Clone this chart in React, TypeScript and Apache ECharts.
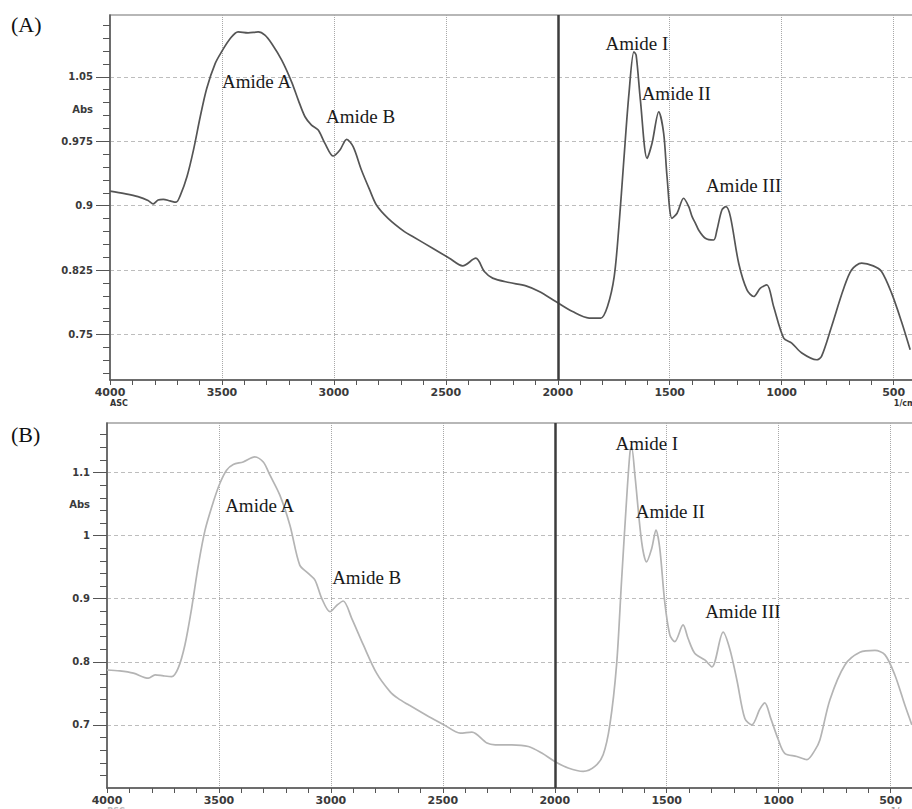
import React, { useEffect, useRef } from "react";
import * as echarts from "echarts";

// ---------- Data: spectrum (A) ----------
const aWave = [4000, 3935, 3875, 3830, 3807, 3785, 3762, 3732, 3705, 3686, 3656, 3627, 3597, 3568, 3530, 3502, 3463, 3428, 3383, 3338, 3308, 3278, 3233, 3189, 3159, 3129, 3100, 3070, 3040, 3003, 2973, 2943, 2914, 2877, 2840, 2810, 2758, 2685, 2648, 2559, 2484, 2425, 2366, 2328, 2291, 2217, 2142, 2083, 2009, 1934, 1860, 1808, 1778, 1748, 1727, 1705, 1682, 1660, 1650, 1631, 1601, 1579, 1549, 1527, 1512, 1490, 1467, 1438, 1415, 1400, 1385, 1371, 1341, 1304, 1289, 1267, 1249, 1229, 1192, 1155, 1125, 1095, 1066, 1036, 991, 955, 910, 844, 822, 777, 725, 688, 643, 591, 554, 509, 465, 426];
const aAbs = [0.917, 0.914, 0.9105, 0.906, 0.902, 0.9066, 0.9074, 0.9055, 0.904, 0.912, 0.934, 0.965, 1.0035, 1.0365, 1.0656, 1.079, 1.0946, 1.1023, 1.1012, 1.1023, 1.0985, 1.0888, 1.0694, 1.0442, 1.0229, 1.0035, 0.9938, 0.988, 0.9726, 0.9578, 0.9648, 0.9772, 0.9686, 0.9415, 0.9183, 0.9008, 0.8853, 0.8698, 0.864, 0.8505, 0.8388, 0.8299, 0.8388, 0.8233, 0.8156, 0.8105, 0.8066, 0.8, 0.7884, 0.7767, 0.7691, 0.7691, 0.7826, 0.8174, 0.8756, 0.9531, 1.0307, 1.0791, 1.0752, 1.0229, 0.9551, 0.9726, 1.0093, 0.9842, 0.9337, 0.8853, 0.8912, 0.9086, 0.8988, 0.8872, 0.8795, 0.8717, 0.862, 0.86, 0.8717, 0.895, 0.8988, 0.8872, 0.833, 0.802, 0.7942, 0.804, 0.8078, 0.7826, 0.7458, 0.74, 0.7284, 0.7206, 0.7244, 0.7593, 0.802, 0.8252, 0.833, 0.8299, 0.8233, 0.7981, 0.7651, 0.7322];

// ---------- Data: spectrum (B) ----------
const bWave = [4000, 3943, 3882, 3815, 3785, 3748, 3711, 3682, 3652, 3622, 3592, 3562, 3525, 3496, 3466, 3436, 3392, 3340, 3302, 3272, 3228, 3183, 3139, 3101, 3071, 3041, 3004, 2972, 2945, 2907, 2855, 2796, 2736, 2700, 2653, 2564, 2494, 2422, 2370, 2303, 2266, 2192, 2118, 2058, 2000, 1940, 1873, 1821, 1784, 1754, 1724, 1702, 1679, 1664, 1657, 1642, 1612, 1590, 1567, 1548, 1531, 1509, 1486, 1464, 1427, 1405, 1375, 1330, 1298, 1248, 1218, 1186, 1151, 1120, 1084, 1062, 1035, 1003, 973, 919, 874, 838, 816, 771, 704, 637, 570, 525, 481, 436, 405];
const bAbs = [0.787, 0.7856, 0.782, 0.774, 0.7793, 0.7777, 0.7766, 0.79, 0.8267, 0.8848, 0.9533, 1.0087, 1.0535, 1.0826, 1.1036, 1.1127, 1.1168, 1.1247, 1.1168, 1.0957, 1.0641, 1.0166, 0.9533, 0.9402, 0.9296, 0.9006, 0.8794, 0.89, 0.8964, 0.869, 0.8267, 0.782, 0.7528, 0.742, 0.7318, 0.7133, 0.7, 0.687, 0.6886, 0.6712, 0.6685, 0.6685, 0.6658, 0.6554, 0.6421, 0.6317, 0.6263, 0.6342, 0.6527, 0.7, 0.7951, 0.9269, 1.0589, 1.1326, 1.1405, 1.0957, 0.9902, 0.9585, 0.9797, 1.0087, 0.9797, 0.8953, 0.8426, 0.832, 0.8584, 0.8373, 0.8136, 0.803, 0.792, 0.847, 0.82, 0.77, 0.71, 0.7, 0.725, 0.735, 0.71, 0.678, 0.655, 0.65, 0.645, 0.66, 0.676, 0.74, 0.795, 0.815, 0.818, 0.811, 0.779, 0.731, 0.7];

// ---------- Annotations ----------
const bandNames = ["Amide A", "Amide B", "Amide I", "Amide II", "Amide III"];
const aBandWave = [3345, 2881, 1647, 1471, 1170];
const aBandAbs = [1.045, 1.0035, 1.0888, 1.0307, 0.924];
const bBandWave = [3318, 2840, 1589, 1484, 1160];
const bBandAbs = [1.047, 0.934, 1.146, 1.039, 0.879];

// ---------- Axis ticks ----------
const xMajor = [500, 1000, 1500, 2000, 2500, 3000, 3500, 4000];
const xGrid = [500, 1000, 1500, 2500, 3000, 3500];
const xSplit = [2000];
const aRange = [0.697, 1.122];
const aMajor = [0.75, 0.825, 0.9, 0.975, 1.05];
const aAbsLabelPos = 1.0125;
const aMinor = [0.705, 0.72, 0.735, 0.765, 0.78, 0.795, 0.81, 0.84, 0.855, 0.87, 0.885, 0.915, 0.93, 0.945, 0.96, 0.99, 1.005, 1.02, 1.035, 1.065, 1.08, 1.095, 1.11];
const bRange = [0.6, 1.1785];
const bMajor = [0.7, 0.8, 0.9, 1, 1.1];
const bAbsLabelPos = 1.05;
const bMinor = [0.62, 0.64, 0.66, 0.68, 0.72, 0.74, 0.76, 0.78, 0.82, 0.84, 0.86, 0.88, 0.92, 0.94, 0.96, 0.98, 1.02, 1.04, 1.06, 1.08, 1.12, 1.14, 1.16];

const zip = (xs: number[], ys: number[]) => xs.map((x, i) => [x, ys[i]]);

const AXIS_FONT = "DejaVu Sans";
const SERIF = "Liberation Serif";

function buildPanel(gridIndex: number, range: number[], major: number[], minor: number[], absPos: number, sub: string, subColor: string, unitColor: string) {
  const xAxes = [
    {
      type: "value", gridIndex, min: 400, max: 4000, inverse: true, interval: 100,
      axisLine: { show: true, lineStyle: { color: "#555", width: 1.5 } },
      axisTick: { show: true, length: 5, lineStyle: { color: "#555", width: 1 } },
      axisLabel: {
        show: true, customValues: xMajor, margin: 6,
        formatter: (v: number) => {
          if (v === 4000) return `{n|4000}\n{s|${sub}}`;
          if (v === 500) return `{n|500}\n{u|1/cm}`;
          return `{n|${v}}`;
        },
        rich: {
          n: { fontFamily: AXIS_FONT, fontWeight: "bold", fontSize: 11, color: "#3a3a3a", lineHeight: 12 },
          s: { fontFamily: AXIS_FONT, fontWeight: "bold", fontSize: 8, color: subColor, lineHeight: 10, padding: [0, 0, 0, 18] },
          u: { fontFamily: AXIS_FONT, fontWeight: "bold", fontSize: 8, color: unitColor, lineHeight: 10, padding: [0, 0, 0, 22] },
        },
      },
      splitLine: { show: false },
    },
    {
      type: "value", gridIndex, min: 400, max: 4000, inverse: true, position: "bottom",
      axisLine: { show: false },
      axisTick: { show: false, customValues: xGrid },
      axisLabel: { show: false },
      splitLine: { show: true, lineStyle: { color: "#a8a8a8", width: 1, type: [1, 1] } },
    },
  ];
  const yAxes = [
    {
      type: "value", gridIndex, min: range[0], max: range[1], position: "left",
      axisLine: { show: true, lineStyle: { color: "#555", width: 1.5 } },
      axisTick: { show: true, length: 7, customValues: minor, lineStyle: { color: "#555", width: 1 } },
      axisLabel: { show: false },
      splitLine: { show: false },
    },
    {
      type: "value", gridIndex, min: range[0], max: range[1], position: "left",
      axisLine: { show: false },
      axisTick: { show: true, length: 14, customValues: major, lineStyle: { color: "#555", width: 1 } },
      axisLabel: {
        show: true, customValues: [...major, absPos], margin: 17,
        fontFamily: AXIS_FONT, fontWeight: "bold", fontSize: 10, color: "#3a3a3a",
        formatter: (v: number) => (Math.abs(v - absPos) < 1e-6 ? "Abs" : String(v)),
      },
      splitLine: { show: true, lineStyle: { color: "#bdbdbd", width: 1, type: [4, 3] } },
    },
  ];
  return { xAxes, yAxes };
}

export default function App() {
  const ref = useRef<HTMLDivElement>(null);
  useEffect(() => {
    if (!ref.current) return;
    const chart = echarts.init(ref.current, null, { renderer: "svg" });
    const pA = buildPanel(0, aRange, aMajor, aMinor, aAbsLabelPos, "ASC", "#333", "#333");
    const pB = buildPanel(1, bRange, bMajor, bMinor, bAbsLabelPos, "BSC", "#bbb", "#999");

    const bandLabel = {
      show: true, position: "inside", formatter: "{b}",
      fontFamily: SERIF, fontSize: 19, color: "#1a1a1a",
    };
    const marks = (ws: number[], vs: number[]) => ({
      symbol: "circle", symbolSize: 1, silent: true,
      itemStyle: { color: "rgba(0,0,0,0)" },
      label: bandLabel,
      data: bandNames.map((n, i) => ({ name: n, coord: [ws[i], vs[i]] })),
    });
    const split = {
      silent: true, symbol: ["none", "none"],
      label: { show: false },
      lineStyle: { color: "#3c3c3c", width: 2.5, type: "solid" },
      data: xSplit.map((x) => ({ xAxis: x })),
    };

    chart.setOption({
      animation: false,
      backgroundColor: "#ffffff",
      grid: [
        { left: 110, top: 15, width: 806, height: 365, show: true, borderColor: "#a0a0a0", borderWidth: 1.5, containLabel: false, outerBoundsMode: "none" },
        { left: 107, top: 423, width: 806, height: 365, show: true, borderColor: "#a0a0a0", borderWidth: 1.5, containLabel: false, outerBoundsMode: "none" },
      ],
      xAxis: [...pA.xAxes, ...pB.xAxes],
      yAxis: [...pA.yAxes, ...pB.yAxes],
      graphic: [
        { type: "text", left: 11, top: 13, style: { text: "(A)", fontFamily: SERIF, fontSize: 22, fill: "#111" } },
        { type: "text", left: 11, top: 423, style: { text: "(B)", fontFamily: SERIF, fontSize: 22, fill: "#111" } },
      ],
      series: [
        {
          name: "A", type: "line", xAxisIndex: 0, yAxisIndex: 0,
          data: zip(aWave, aAbs), showSymbol: false, smooth: 0.3,
          lineStyle: { color: "#555555", width: 1.7 },
          markLine: split, markPoint: marks(aBandWave, aBandAbs),
        },
        {
          name: "B", type: "line", xAxisIndex: 2, yAxisIndex: 2,
          data: zip(bWave, bAbs), showSymbol: false, smooth: 0.3,
          lineStyle: { color: "#b4b4b4", width: 1.7 },
          markLine: split, markPoint: marks(bBandWave, bBandAbs),
        },
      ],
    });
    return () => chart.dispose();
  }, []);
  return (
    <div
      ref={ref}
      style={{ position: "fixed", left: 0, top: 0, width: 912, height: 809, background: "#fff" }}
    />
  );
}
